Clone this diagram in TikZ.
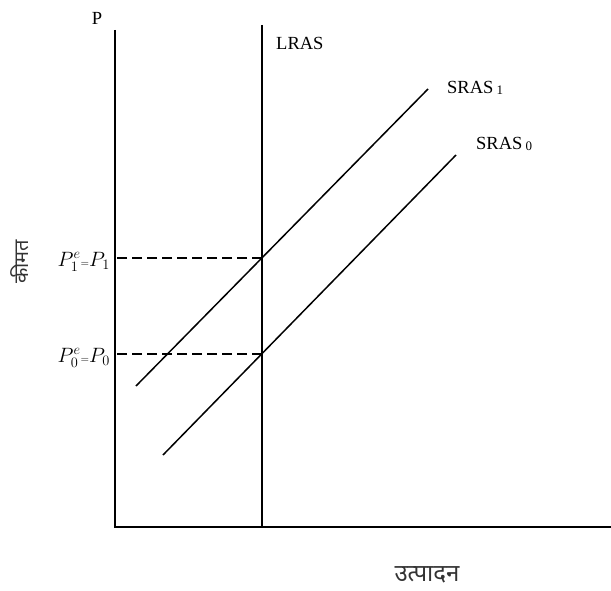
\documentclass[tikz,border=0pt]{standalone}
\usepackage{fontspec}
\setmainfont{Liberation Serif}
\newfontfamily\devfont[Script=Devanagari]{Noto Sans}
\usepackage{tikz}
\usetikzlibrary{positioning}

\begin{document}
\begin{tikzpicture}[x=1pt,y=-1pt,
    axisline/.style={line width=1.8pt},
    curve/.style={line width=1.5pt},
    guide/.style={line width=1.5pt,dash pattern=on 10pt off 5pt},
    lbl/.style={font=\fontsize{18.5}{22}\selectfont,inner sep=0pt},
    mathlbl/.style={font=\fontsize{21}{24}\selectfont,inner sep=0pt,anchor=east},
    devlbl/.style={font=\devfont\fontsize{20}{24}\selectfont,text=black!80,inner sep=0pt}]
  \useasboundingbox (0,0) rectangle (611,591);
  % axes
  \coordinate (origin) at (115,527);
  \coordinate (ytop) at (115,30);
  \coordinate (xend) at (611,527);
  \draw[axisline] (ytop) -- (origin) -- (xend);
  \node[lbl] (plabel) at (97,18) {P};
  % long run supply
  \coordinate (lrtop) at (262,25);
  \draw[axisline] (lrtop) -- (lrtop |- origin);
  \node[lbl,anchor=west] (lras) at (276,43) {LRAS};
  % short run supply curves
  \coordinate (s1low) at (136,386);
  \coordinate (s1high) at (428,89);
  \coordinate (s0low) at (163,455);
  \coordinate (s0high) at (456,155);
  \draw[curve] (s1low) -- (s1high);
  \draw[curve] (s0low) -- (s0high);
  \node[lbl,anchor=west] (sras1) at (447,88) {SRAS\,\raisebox{-1.5pt}{\fontsize{13}{13}\selectfont 1}};
  \node[lbl,anchor=west] (sras0) at (476,144) {SRAS\,\raisebox{-1.5pt}{\fontsize{13}{13}\selectfont 0}};
  % equilibria
  \coordinate (e1) at (262,258);
  \coordinate (e0) at (262,354);
  \draw[guide] (e1) -- (e1 -| origin);
  \draw[guide] (e0) -- (e0 -| origin);
  \node[mathlbl] (p1) at (110,262) {$P^e_1{\scriptscriptstyle =}P_1$};
  \node[mathlbl] (p0) at (110,358) {$P^e_0{\scriptscriptstyle =}P_0$};
  % axis titles
  \node[devlbl,rotate=90] (ytitle) at (20,262) {कीमत};
  \node[devlbl,font=\devfont\fontsize{24}{28}\selectfont] (xtitle) at (427,575) {उत्पादन};
\end{tikzpicture}
\end{document}
